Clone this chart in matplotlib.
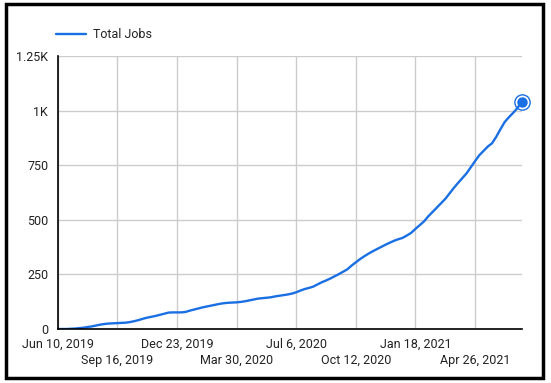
import datetime as dt
import matplotlib
matplotlib.use("Agg")
import matplotlib.pyplot as plt
from matplotlib.patches import Rectangle

plt.rcParams['font.family'] = ['Roboto', 'DejaVu Sans']

# weekly totals starting Jun 10, 2019
start = dt.date(2019, 6, 10)
total_jobs = [
    0, 0, 0, 1, 2, 4, 6, 9, 12, 16, 20, 23,
    25, 26, 27, 28, 29,
    32, 36, 41, 47, 52,
    56, 60, 65, 70, 75,
    76, 76, 76, 78,
    84, 89, 94, 99,
    103, 107, 111, 115, 118,
    120, 121, 122, 124,
    127, 131, 135, 139, 141,
    143, 145, 149, 152, 155,
    158, 162, 168, 176,
    183, 188, 194, 204, 214,
    222, 231, 241, 251, 262, 273,
    290, 305, 320, 333,
    345, 356, 366,
    376, 386, 395, 404, 411,
    417, 428, 440,
    458, 475, 492,
    515, 535, 555, 575,
    595, 620, 645,
    668, 690, 712, 740,
    768, 795, 815, 835,
    850, 880, 915, 948,
    970, 990, 1012, 1041,
]
dates = [start + dt.timedelta(weeks=i) for i in range(len(total_jobs))]

tick_dates = [start + dt.timedelta(weeks=14 * i) for i in range(8)]
tick_labels = ["Jun 10, 2019", "Sep 16, 2019", "Dec 23, 2019", "Mar 30, 2020",
               "Jul 6, 2020", "Oct 12, 2020", "Jan 18, 2021", "Apr 26, 2021"]
y_ticks = [0, 250, 500, 750, 1000, 1250]
y_labels = ["0", "250", "500", "750", "1K", "1.25K"]

blue = '#1a6fe3'

fig = plt.figure(figsize=(5.51, 3.83), dpi=100)
ax = fig.add_axes([0.105, 0.141, 0.842, 0.713])

ax.plot(dates, total_jobs, color=blue, lw=1.7, label='Total Jobs', solid_capstyle='round')
ax.plot(dates[-1], total_jobs[-1], 'o', color=blue, ms=6.5, clip_on=False, zorder=6)
ax.plot(dates[-1], total_jobs[-1], 'o', mfc='none', mec=blue, ms=11, mew=1.0,
        clip_on=False, zorder=6)

ax.set_xlim(dates[0], dates[-1])
ax.set_ylim(0, 1250)
ax.set_yticks(y_ticks)
ax.set_yticklabels(y_labels)
ax.set_xticks(tick_dates)
ax.set_xticklabels(tick_labels)
for i, t in enumerate(ax.get_xticklabels()):
    if i % 2 == 1:
        t.set_y(-0.062)

ax.grid(True, color='#cccccc', lw=1)
ax.set_axisbelow(True)
ax.tick_params(length=0, labelsize=9, colors='#222222')
ax.tick_params(axis='x', pad=6)
ax.tick_params(axis='y', pad=7)
for s in ['top', 'right']:
    ax.spines[s].set_visible(False)
for s in ['left', 'bottom']:
    ax.spines[s].set_color('black')
    ax.spines[s].set_linewidth(1.2)
    ax.spines[s].set_zorder(5)

leg = ax.legend(loc='lower left', bbox_to_anchor=(-0.015, 1.035), frameon=False,
                fontsize=9, handlelength=2.4, handletextpad=0.6, borderaxespad=0)
for t in leg.get_texts():
    t.set_color('#222222')

fig.patches.append(Rectangle((0.011, 0.014), 0.975, 0.975, transform=fig.transFigure,
                             fill=False, ec='black', lw=2.5))

fig.savefig('out.png', dpi=100)
